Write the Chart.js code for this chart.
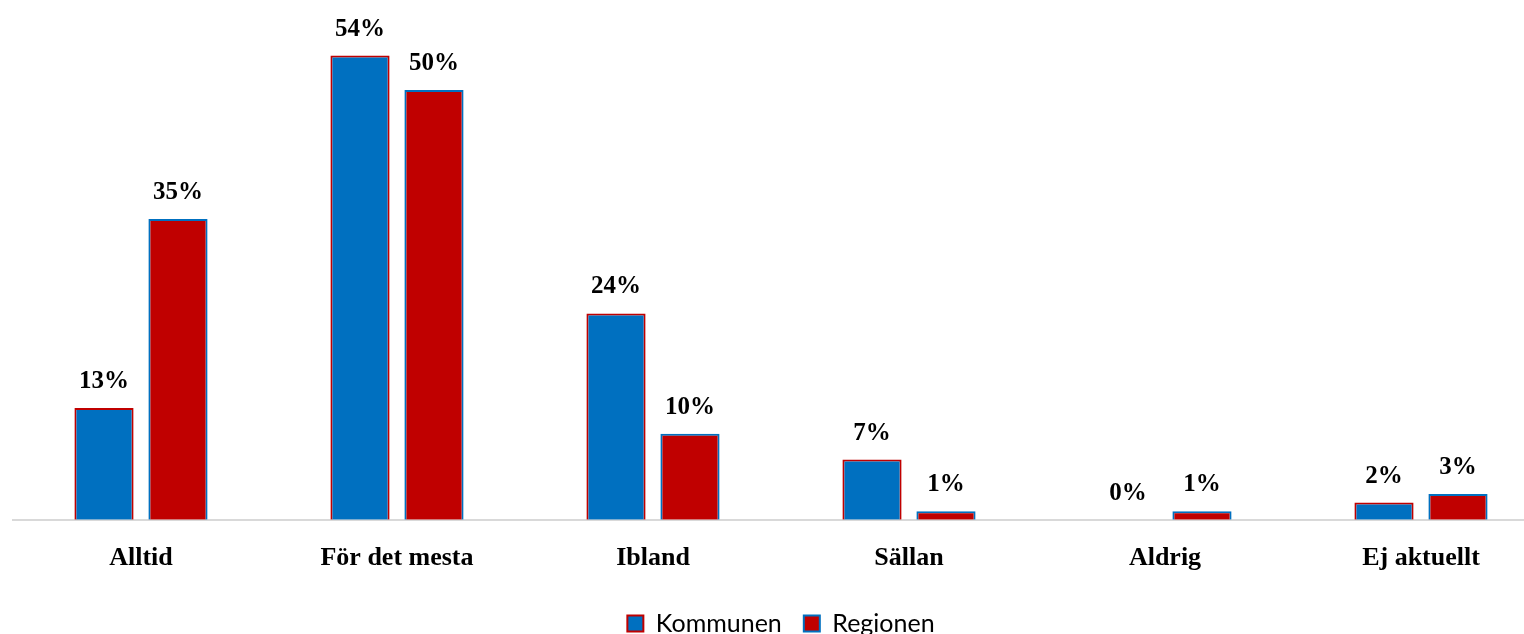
<!DOCTYPE html>
<html>
<head>
<meta charset="utf-8">
<script src="https://cdn.jsdelivr.net/npm/chart.js@4"></script>
<style>
    html, body {
        margin: 0;
        padding: 0;
        background: #ffffff;
        overflow: hidden;
    }
    #wrap {
        position: relative;
        width: 1560px;
        height: 648px;
    }
</style>
</head>
<body>
<div id="wrap">
    <canvas id="chart"></canvas>
</div>
<script>
const categories = [
    "Alltid",
    "För det mesta",
    "Ibland",
    "Sällan",
    "Aldrig",
    "Ej aktuellt"
];

const kommunenValues = [13, 54, 24, 7, 0, 2];
const regionenValues = [35, 50, 10, 1, 1, 3];

const BLUE = "#0070C0";
const RED = "#C00000";

// value labels above each bar
const valueLabels = {
    id: "valueLabels",
    afterDatasetsDraw(chart) {
        const ctx = chart.ctx;
        ctx.save();
        ctx.font = "bold 25px 'Liberation Serif'";
        ctx.fillStyle = "#000000";
        ctx.textAlign = "center";
        ctx.textBaseline = "alphabetic";
        chart.data.datasets.forEach((ds, i) => {
            const meta = chart.getDatasetMeta(i);
            meta.data.forEach((bar, j) => {
                ctx.fillText(ds.data[j] + "%", bar.x, bar.y - 20);
            });
        });
        ctx.restore();
    }
};

new Chart(document.getElementById("chart"), {
    type: "bar",
    data: {
        labels: categories,
        datasets: [
            {
                label: "Kommunen",
                data: kommunenValues,
                backgroundColor: BLUE,
                borderColor: RED,
                borderWidth: 2,
                borderSkipped: "bottom"
            },
            {
                label: "Regionen",
                data: regionenValues,
                backgroundColor: RED,
                borderColor: BLUE,
                borderWidth: 2,
                borderSkipped: "bottom"
            }
        ]
    },
    options: {
        responsive: true,
        maintainAspectRatio: false,
        animation: false,
        datasets: {
            bar: {
                categoryPercentage: 0.578,
                barPercentage: 0.8
            }
        },
        layout: {
            padding: { left: 13, right: 11, top: 4, bottom: 2 }
        },
        scales: {
            x: {
                grid: { display: false },
                border: { color: "#d9d9d9", width: 2 },
                ticks: {
                    color: "#000000",
                    padding: 15,
                    font: { family: "'Liberation Serif'", size: 26, weight: "bold" }
                }
            },
            y: {
                display: false,
                min: 0,
                max: 60
            }
        },
        plugins: {
            legend: {
                position: "bottom",
                labels: {
                    color: "#000000",
                    boxWidth: 16,
                    boxHeight: 16,
                    padding: 22,
                    font: { family: "Lato", size: 25 }
                }
            },
            tooltip: { enabled: false }
        }
    },
    plugins: [valueLabels]
});
</script>
</body>
</html>
